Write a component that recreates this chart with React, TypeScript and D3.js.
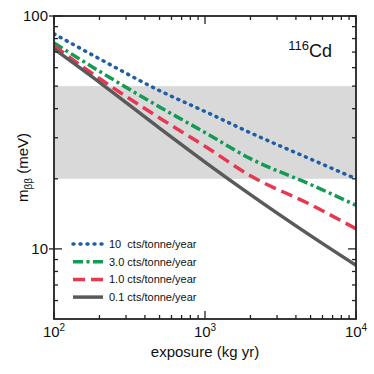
import React from "react";
import * as d3 from "d3";

const exposures = [100, 200, 500, 1000, 2000, 5000, 10000];
const bkg10 = [83.8, 65.5, 47.8, 38.9, 31.5, 24.3, 20.0];
const bkg3 = [76.6, 57.9, 40.7, 31.6, 24.4, 18.9, 15.4];
const bkg1 = [74.4, 53.9, 36.5, 27.6, 20.6, 15.5, 12.2];
const bkg01 = [72.2, 51.9, 33.0, 23.6, 17.1, 11.4, 8.5];
const legendLabels = ["10  cts/tonne/year", "3.0 cts/tonne/year", "1.0 cts/tonne/year", "0.1 cts/tonne/year"];
const bandRange = [20, 50];
const xMajor = [100, 1000, 10000];
const xMajorExp = ["2", "3", "4"];
const yMajor = [10, 100];
const yMajorLabels = ["10", "100"];

const W = 374, H = 374;
const L = 54, R = 356, T = 16, B = 319;

export default function App() {
  const x = d3.scaleLog().domain([100, 10000]).range([L, R]);
  const y = d3.scaleLog().domain([5, 100]).range([B, T]);
  const series = [
    { v: bkg10, color: "#1d5ea6", dash: "1 6", cap: "round" },
    { v: bkg3, color: "#139a55", dash: "10 3.5 3 3.5", cap: "butt" },
    { v: bkg1, color: "#e63950", dash: "12 6", cap: "butt" },
    { v: bkg01, color: "#5a5a5a", dash: null, cap: "butt" },
  ];
  const line = d3.line<number>()
    .x((_, i) => x(exposures[i]))
    .y((d) => y(d))
    .curve(d3.curveMonotoneX);

  const xMinor: number[] = [];
  for (const dec of [100, 1000]) for (let k = 2; k <= 9; k++) xMinor.push(dec * k);
  const yMinor: number[] = [];
  for (const dec of [1, 10]) for (let k = 1; k <= 9; k++) {
    const v = dec * k;
    if (v >= 6 && v <= 90 && v !== 10) yMinor.push(v);
  }
  const axisColor = "#222";
  const font = "'Liberation Sans', Arial, Helvetica, sans-serif";

  return (
    <svg width={W} height={H} style={{ position: "absolute", left: 0, top: 0 }} fontFamily={font}>
      <rect x={0} y={0} width={W} height={H} fill="#fff" />
      <rect x={L} y={y(bandRange[1])} width={R - L} height={y(bandRange[0]) - y(bandRange[1])} fill="#d9d9d9" />
      <defs>
        <clipPath id="plot">
          <rect x={L} y={T} width={R - L} height={B - T} />
        </clipPath>
      </defs>
      <g clipPath="url(#plot)">
        {series.map((s, i) => (
          <path key={i} d={line(s.v) || ""} fill="none" stroke={s.color} strokeWidth={3.5}
            strokeDasharray={s.dash || undefined} strokeLinecap={s.cap as any} />
        ))}
      </g>
      {/* ticks */}
      <g stroke={axisColor} strokeWidth={1.3}>
        {xMinor.map((v) => (
          <g key={"xm" + v}>
            <line x1={x(v)} x2={x(v)} y1={B} y2={B - 4} />
            <line x1={x(v)} x2={x(v)} y1={T} y2={T + 4} />
          </g>
        ))}
        {xMajor.map((v) => (
          <g key={"xM" + v}>
            <line x1={x(v)} x2={x(v)} y1={B} y2={B - 8} />
            <line x1={x(v)} x2={x(v)} y1={T} y2={T + 8} />
          </g>
        ))}
        {yMinor.map((v) => (
          <g key={"ym" + v}>
            <line x1={L} x2={L + 4} y1={y(v)} y2={y(v)} />
            <line x1={R} x2={R - 4} y1={y(v)} y2={y(v)} />
          </g>
        ))}
        {yMajor.map((v) => (
          <g key={"yM" + v}>
            <line x1={L - 5} x2={L + 8} y1={y(v)} y2={y(v)} />
            <line x1={R} x2={R - 8} y1={y(v)} y2={y(v)} />
          </g>
        ))}
      </g>
      <rect x={L} y={T} width={R - L} height={B - T} fill="none" stroke={axisColor} strokeWidth={1.8} />
      {/* tick labels */}
      {yMajor.map((v, i) => (
        <text key={"yl" + v} x={L - 6} y={y(v)} dy="0.36em" textAnchor="end" fontSize={15} fill="#111">{yMajorLabels[i]}</text>
      ))}
      {xMajor.map((v, i) => (
        <text key={"xl" + v} x={x(v)} y={337} textAnchor="middle" fontSize={15} fill="#111">
          10<tspan dy={-6} fontSize={10}>{xMajorExp[i]}</tspan>
        </text>
      ))}
      <text x={(L + R) / 2} y={357} textAnchor="middle" fontSize={15} fill="#111">exposure (kg yr)</text>
      <text transform={`translate(28,${(T + B) / 2}) rotate(-90)`} textAnchor="middle" fontSize={15} fill="#111">
        m<tspan dy={4} fontSize={10}>ββ</tspan><tspan dy={-4}> (meV)</tspan>
      </text>
      <text x={332} y={57} textAnchor="end" fontSize={18} fill="#111">
        <tspan fontSize={13} dy={-7}>116</tspan><tspan dy={7}>Cd</tspan>
      </text>
      {/* legend */}
      {series.map((s, i) => {
        const yy = 244 + i * 17.7;
        return (
          <g key={"lg" + i}>
            <line x1={73} x2={103} y1={yy} y2={yy} stroke={s.color} strokeWidth={3.5}
              strokeDasharray={s.dash || undefined} strokeLinecap={s.cap as any} />
            <text x={109} y={yy} dy="0.36em" fontSize={11} fill="#111" style={{ whiteSpace: "pre" }}>{legendLabels[i]}</text>
          </g>
        );
      })}
    </svg>
  );
}
